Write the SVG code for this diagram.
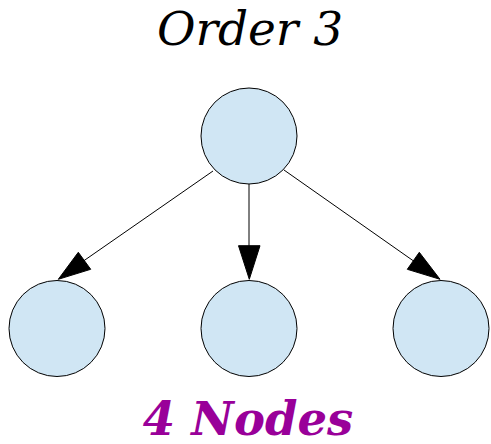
<svg xmlns="http://www.w3.org/2000/svg" width="491" height="444" viewBox="0 0 491 444">
<style>
.node{fill:#d0e6f4;stroke:#000;stroke-width:1}
.edge{stroke:#000;stroke-width:1;fill:none}
.head{fill:#000;stroke:#000;stroke-width:1}
.title{font-family:"DejaVu Serif",serif;font-style:italic;font-size:47px;fill:#000}
.foot{font-family:"DejaVu Serif",serif;font-style:italic;font-weight:bold;font-size:46.5px;fill:#990099}
</style>
<rect width="491" height="444" fill="#fff"/>
<text class="title" x="250" y="45" text-anchor="middle">Order 3</text>
<g id="connectors">
<line class="edge" x1="213" y1="171" x2="82" y2="262"/>
<polygon class="head" points="58.3,279.3 78.3,252.3 90.7,269.3"/>
<line class="edge" x1="249" y1="184" x2="249" y2="246"/>
<polygon class="head" points="249.3,279.3 238.5,245.7 260,245.7"/>
<line class="edge" x1="284" y1="170" x2="415" y2="262"/>
<polygon class="head" points="440,279.3 419.3,252.3 407.3,269.3"/>
</g>
<g id="n0"><circle class="node" cx="249" cy="136" r="48"/></g>
<g id="n1"><circle class="node" cx="57" cy="328.5" r="48"/></g>
<g id="n2"><circle class="node" cx="249" cy="328.5" r="48"/></g>
<g id="n3"><circle class="node" cx="441" cy="328.5" r="48"/></g>
<text class="foot" x="248" y="435" text-anchor="middle">4 Nodes</text>
</svg>
